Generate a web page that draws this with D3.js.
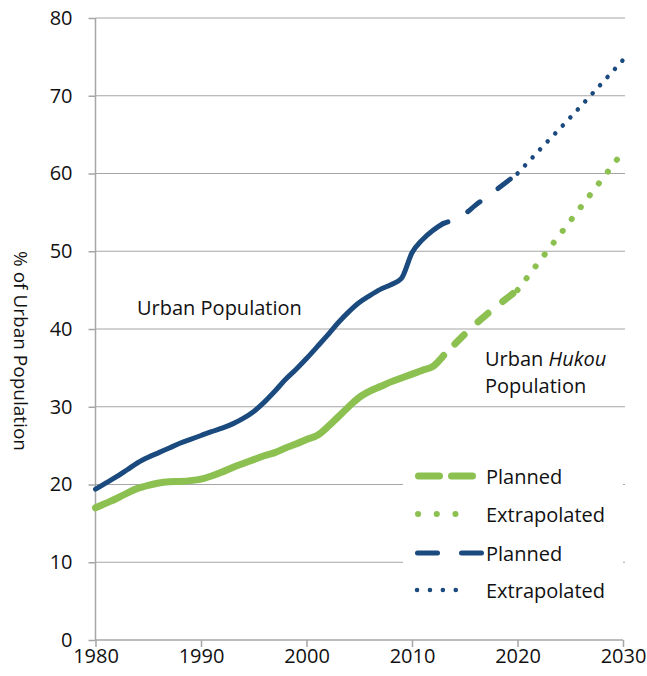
<!DOCTYPE html>
<html>
<head>
<meta charset="utf-8">
<script src="https://cdn.jsdelivr.net/npm/d3@7"></script>
<style>
  html, body { margin: 0; padding: 0; background: #fff; }
  svg { display: block; font-family: "Open Sans", sans-serif; }
</style>
</head>
<body>
<svg id="chart" width="647" height="676"></svg>
<script>
// ---- Data ----
const urbanYears = [1980,1981,1982,1983,1984,1985,1986,1987,1988,1989,1990,1991,1992,1993,1994,1995,1996,1997,1998,1999,2000,2001,2002,2003,2004,2005,2006,2007,2008,2009,2010,2011,2012,2013];
const urbanValues = [19.4,20.2,21.0,21.9,22.8,23.5,24.1,24.7,25.3,25.8,26.3,26.8,27.25,27.8,28.5,29.4,30.6,32.0,33.5,34.8,36.2,37.7,39.2,40.8,42.2,43.4,44.3,45.1,45.7,46.5,49.8,51.5,52.7,53.6];
const urbanPlannedYears = [2013,2015,2016,2018,2020];
const urbanPlannedValues = [53.6,54.8,55.9,57.9,60.0];
const urbanExtrapYears = [2020,2022,2025,2030];
const urbanExtrapValues = [60.0,62.9,67.2,74.6];

const hukouYears = [1980,1981,1982,1983,1984,1985,1986,1987,1988,1989,1990,1991,1992,1993,1994,1995,1996,1997,1998,1999,2000,2001,2002,2003,2004,2005,2006,2007,2008,2009,2010,2011,2012,2013];
const hukouValues = [17.0,17.6,18.2,18.9,19.5,19.9,20.2,20.35,20.4,20.5,20.7,21.1,21.6,22.2,22.7,23.2,23.7,24.1,24.7,25.2,25.8,26.3,27.4,28.7,30.0,31.2,32.0,32.6,33.2,33.7,34.2,34.7,35.2,36.6];
const hukouPlannedYears = [2013,2016,2020];
const hukouPlannedValues = [36.6,40.6,45.0];
const hukouExtrapYears = [2020,2025,2030];
const hukouExtrapValues = [45.0,53.9,62.8];

const xTicks = [1980,1990,2000,2010,2020,2030];
const yTicks = [0,10,20,30,40,50,60,70,80];
const legendLabels = ["Planned","Extrapolated","Planned","Extrapolated"];

// ---- Layout ----
const svg = d3.select("#chart");
const mLeft = 95.5, mRight = 623, mTop = 18, mBottom = 640;
const x = d3.scaleLinear().domain([1980, 2030]).range([mLeft, mRight]);
const y = d3.scaleLinear().domain([0, 80]).range([mBottom, mTop]);

const BLUE = "#1b4a7e", GREEN = "#8cc152", GRID = "#a6a6a6", TXT = "#111";

// gridlines
svg.append("g").selectAll("line").data(yTicks.filter(d => d > 0)).join("line")
  .attr("x1", mLeft).attr("x2", mRight + 2)
  .attr("y1", d => y(d)).attr("y2", d => y(d))
  .attr("stroke", GRID).attr("stroke-width", 1.2);

// y axis
const yAxis = svg.append("g").attr("transform", `translate(${mLeft},0)`)
  .call(d3.axisLeft(y).tickValues(yTicks).tickSize(7).tickPadding(16));
// x axis
const xAxis = svg.append("g").attr("transform", `translate(0,${mBottom})`)
  .call(d3.axisBottom(x).tickValues(xTicks).tickFormat(d3.format("d")).tickSize(7).tickPadding(2));
[yAxis, xAxis].forEach(a => {
  a.select(".domain").attr("stroke", GRID).attr("stroke-width", 1.5);
  a.selectAll(".tick line").attr("stroke", GRID).attr("stroke-width", 1.5);
  a.selectAll(".tick text").attr("fill", TXT).style("font-size", "20px")
    .style("font-family", "'Open Sans', sans-serif");
});
xAxis.select(".domain").attr("d", `M${mLeft},0H${mRight}`);
yAxis.select(".domain").attr("d", `M0,${y(80)}V${y(0)}`);

// y axis title
svg.append("text")
  .attr("transform", `translate(21,${(mTop + mBottom) / 2 + 22}) rotate(90)`)
  .attr("text-anchor", "middle").attr("dominant-baseline", "central")
  .style("font-size", "19px").attr("fill", TXT)
  .text("% of Urban Population");

// lines
const line = d3.line().x(d => x(d[0])).y(d => y(d[1])).curve(d3.curveMonotoneX);
const zip = (a, b) => a.map((v, i) => [v, b[i]]);

function draw(years, vals, color, width, dash, offset) {
  const p = svg.append("path").datum(zip(years, vals))
    .attr("d", line).attr("fill", "none")
    .attr("stroke", color).attr("stroke-width", width)
    .attr("stroke-linecap", "round").attr("stroke-linejoin", "round");
  if (dash) p.attr("stroke-dasharray", dash).attr("stroke-dashoffset", offset || 0);
  return p;
}

draw(hukouYears, hukouValues, GREEN, 7);
draw(hukouPlannedYears, hukouPlannedValues, GREEN, 7, "13 19", 16);
draw(hukouExtrapYears, hukouExtrapValues, GREEN, 6, "0.1 14.8", 0);

draw(urbanYears, urbanValues, BLUE, 5);
draw(urbanPlannedYears, urbanPlannedValues, BLUE, 5, "15.5 22.5", 11);
draw(urbanExtrapYears, urbanExtrapValues, BLUE, 4.5, "0.1 10.9", 0);

// annotations
svg.append("text").attr("x", 137).attr("y", 315)
  .style("font-size", "20px").attr("fill", TXT).text("Urban Population");
const hk = svg.append("text").attr("x", 485).attr("y", 366)
  .style("font-size", "20px").attr("fill", TXT);
hk.append("tspan").text("Urban ");
hk.append("tspan").style("font-style", "italic").text("Hukou");
svg.append("text").attr("x", 485).attr("y", 393)
  .style("font-size", "20px").attr("fill", TXT).text("Population");

// legend
const lg = svg.append("g");
lg.append("rect").attr("x", 403).attr("y", 458).attr("width", 220).attr("height", 150).attr("fill", "#fff");
const rows = [476, 514, 553, 590];
const legendStyles = [
  {c: GREEN, w: 7, dash: "21 12", x1: 418.5, x2: 473.5},
  {c: GREEN, w: 6, dash: "0.1 18.6", x1: 418, x2: 474},
  {c: BLUE, w: 5, dash: "20 24", x1: 417.5, x2: 482.5},
  {c: BLUE, w: 4.5, dash: "0.1 12.8", x1: 417, x2: 468.3}
];
legendStyles.forEach((s, i) => {
  lg.append("line").attr("x1", s.x1).attr("x2", s.x2).attr("y1", rows[i]).attr("y2", rows[i])
    .attr("stroke", s.c).attr("stroke-width", s.w).attr("stroke-linecap", "round")
    .attr("stroke-dasharray", s.dash);
  lg.append("text").attr("x", 486).attr("y", rows[i]).attr("dominant-baseline", "central")
    .style("font-size", "20px").attr("fill", TXT).text(legendLabels[i]);
});
</script>
</body>
</html>
